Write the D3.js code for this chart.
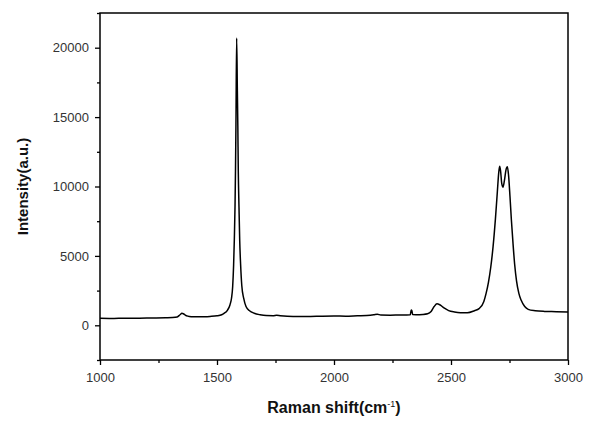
<!DOCTYPE html>
<html>
<head>
<meta charset="utf-8">
<script src="https://cdn.jsdelivr.net/npm/d3@7"></script>
<style>
  html, body { margin: 0; padding: 0; background: #fff; overflow: hidden; }
  svg { display: block; }
</style>
</head>
<body>
<svg id="chart"></svg>
<script>
// Raman spectrum (shift in cm-1, intensity in a.u.)
var shift = [1000, 1040, 1080, 1120, 1160, 1200, 1240, 1280, 1310, 1330, 1342, 1350, 1356, 1364, 1375, 1390,
  1410, 1440, 1470, 1500, 1520, 1530, 1545, 1555, 1562, 1567, 1571, 1574, 1577, 1579, 1581, 1584,
  1587, 1589, 1591, 1594, 1597, 1601, 1606, 1614, 1624, 1639, 1659, 1684, 1710, 1740, 1755, 1770,
  1800, 1850, 1900, 1950, 2000, 2050, 2100, 2140, 2170, 2185, 2200, 2240, 2280, 2310, 2326, 2330,
  2333, 2336, 2350, 2380, 2400, 2415, 2428, 2440, 2452, 2470, 2490, 2515, 2540, 2570, 2600, 2620,
  2640, 2650, 2660, 2670, 2680, 2690, 2698, 2704, 2708, 2712, 2717, 2722, 2728, 2735, 2741, 2746,
  2752, 2758, 2765, 2772, 2780, 2790, 2800, 2815, 2830, 2860, 2900, 2950, 3000];
var intensity = [500, 490, 505, 500, 510, 520, 530, 545, 560, 600, 760, 860, 830, 740, 660, 620,
  610, 620, 640, 680, 760, 860, 1100, 1450, 1950, 2800, 4350, 6150, 8550, 11100, 14500, 20700,
  16900, 14400, 11100, 8500, 6150, 4350, 2850, 1950, 1350, 1050, 870, 760, 700, 690, 720, 690,
  650, 630, 640, 660, 670, 660, 690, 710, 760, 800, 740, 730, 745, 750, 760, 1100,
  1050, 770, 760, 780, 830, 1000, 1350, 1550, 1480, 1250, 1060, 960, 910, 900, 1050, 1200,
  1700, 2300, 3100, 4200, 5700, 7700, 9600, 11000, 11450, 11100, 10200, 9950, 10400, 11200, 11420, 10800,
  9300, 7600, 5900, 4400, 3200, 2300, 1800, 1350, 1150, 1050, 1000, 980, 950];
var xTicks = [1000, 1500, 2000, 2500, 3000];
var xMinor = [1250, 1750, 2250, 2750];
var yTicks = [0, 5000, 10000, 15000, 20000];
var yMinor = [-2500, 2500, 7500, 12500, 17500, 22500];

var widthA = 600, heightA = 425;
var margin = { top: 13, right: 32, bottom: 65, left: 100 };
var innerWidth = widthA - margin.left - margin.right;
var innerHeight = heightA - margin.top - margin.bottom;
var fontsize = 13;

var svg = d3.select('#chart')
  .attr('width', widthA)
  .attr('height', heightA);

var g = svg.append('g')
  .attr('transform', `translate(${margin.left},${margin.top})`);

var xScale = d3.scaleLinear().domain([1000, 3000]).range([0, innerWidth]);
var yScale = d3.scaleLinear().domain([-2500, 22500]).range([innerHeight, 0]);

var data = shift.map((s, i) => ({ s: s, v: intensity[i] }));

//************ minor ticks (no labels)
g.append('g')
  .attr('transform', `translate(0,${innerHeight})`)
  .call(d3.axisBottom(xScale).tickValues(xMinor).tickSize(3).tickFormat(''))
  .call(a => a.select('.domain').remove())
  .call(a => a.selectAll('text').remove())
  .selectAll('line').attr('stroke', '#000').attr('stroke-width', 1.3);

g.append('g')
  .call(d3.axisLeft(yScale).tickValues(yMinor).tickSize(3).tickFormat(''))
  .call(a => a.select('.domain').remove())
  .call(a => a.selectAll('text').remove())
  .selectAll('line').attr('stroke', '#000').attr('stroke-width', 1.3);

//************ major ticks
var xAxisG = g.append('g')
  .attr('transform', `translate(0,${innerHeight})`)
  .call(d3.axisBottom(xScale).tickValues(xTicks).tickSize(5).tickPadding(8).tickFormat(d3.format('d')));
xAxisG.select('.domain').remove();
xAxisG.selectAll('line').attr('stroke', '#000').attr('stroke-width', 1.3);
xAxisG.selectAll('text')
  .style('font-size', fontsize + 'px')
  .style('font-family', 'Liberation Sans, Arial, sans-serif')
  .attr('fill', '#333');

var yAxisG = g.append('g')
  .call(d3.axisLeft(yScale).tickValues(yTicks).tickSize(5).tickPadding(6).tickFormat(d3.format('d')));
yAxisG.select('.domain').remove();
yAxisG.selectAll('line').attr('stroke', '#000').attr('stroke-width', 1.3);
yAxisG.selectAll('text')
  .style('font-size', fontsize + 'px')
  .style('font-family', 'Liberation Sans, Arial, sans-serif')
  .attr('fill', '#333');

//************ spectrum
g.append('path')
  .datum(data)
  .attr('d', d3.line().x(d => xScale(d.s)).y(d => yScale(d.v)).curve(d3.curveMonotoneX))
  .attr('fill', 'none')
  .attr('stroke', '#000')
  .attr('stroke-width', 1.5);

//************ frame
g.append('rect')
  .attr('x', 0).attr('y', 0)
  .attr('width', innerWidth).attr('height', innerHeight)
  .attr('fill', 'none')
  .attr('stroke', '#000')
  .attr('stroke-width', 1.5);

//************ x title
var xt = svg.append('text')
  .attr('x', margin.left + innerWidth / 2)
  .attr('y', 413)
  .attr('text-anchor', 'middle')
  .style('font-family', 'Liberation Sans, Arial, sans-serif')
  .style('font-weight', 700)
  .style('font-size', '16px')
  .attr('fill', '#111');
xt.append('tspan').text('Raman shift(cm');
xt.append('tspan').text('-1').attr('dy', -6).style('font-size', '9px').style('font-weight', 400);
xt.append('tspan').text(')').attr('dy', 6);

//************ y title
svg.append('text')
  .attr('transform', `translate(28,${margin.top + innerHeight / 2}) rotate(-90)`)
  .attr('text-anchor', 'middle')
  .style('font-family', 'Liberation Sans, Arial, sans-serif')
  .style('font-weight', 700)
  .style('font-size', '15px')
  .attr('fill', '#111')
  .text('Intensity(a.u.)');
</script>
</body>
</html>
